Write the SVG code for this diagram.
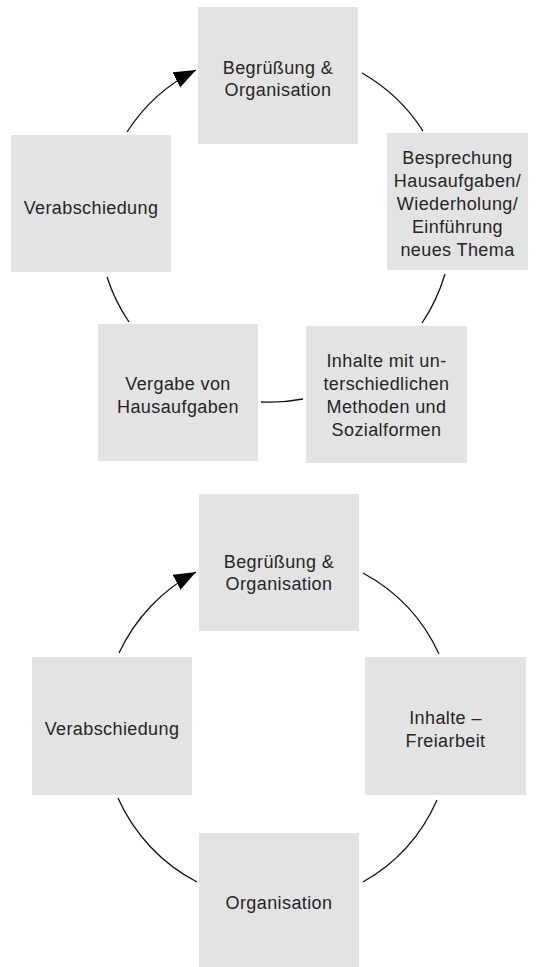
<svg xmlns="http://www.w3.org/2000/svg" width="536" height="967" viewBox="0 0 536 967">
  <style>
    .box { fill: #e3e3e3; }
    .lbl { font-family: "Liberation Sans", Arial, sans-serif; font-size: 18px; letter-spacing: 0.4px; fill: #262626; text-anchor: middle; }
    .arc { fill: none; stroke: #111; stroke-width: 1.3; }
  </style>
  <defs>
    <marker id="arrow" markerUnits="userSpaceOnUse" markerWidth="24" markerHeight="18" refX="22" refY="8.5" orient="auto">
      <path d="M0,0 L22,8.5 L0,17 Z" fill="#000"/>
    </marker>
  </defs>
  <rect width="536" height="967" fill="#fff"/>

  <!-- lesson cycle: classic lesson -->
  <g id="connectors-top">
    <path class="arc" d="M362,73 A175.5,175.5 0 0 1 423,131"/>
    <path class="arc" d="M445,274 A175.5,175.5 0 0 1 422,323"/>
    <path class="arc" d="M303,399 A175.5,175.5 0 0 1 261,402"/>
    <path class="arc" d="M129,322 A175.5,175.5 0 0 1 107,277"/>
    <path class="arc" d="M127,132 A175.5,175.5 0 0 1 196,70" marker-end="url(#arrow)"/>
  </g>

  <g id="top-begruessung">
    <rect class="box" x="198" y="7" width="160" height="137"/>
    <text class="lbl" x="278" y="74">Begrüßung &amp;</text>
    <text class="lbl" x="278" y="96">Organisation</text>
  </g>
  <g id="top-besprechung">
    <rect class="box" x="387" y="133" width="141" height="137"/>
    <text class="lbl" x="457.5" y="164">Besprechung</text>
    <text class="lbl" x="457.5" y="187">Hausaufgaben/</text>
    <text class="lbl" x="457.5" y="210">Wiederholung/</text>
    <text class="lbl" x="457.5" y="233">Einführung</text>
    <text class="lbl" x="457.5" y="256">neues Thema</text>
  </g>
  <g id="top-inhalte">
    <rect class="box" x="306" y="326" width="161" height="137"/>
    <text class="lbl" x="386.5" y="367">Inhalte mit un-</text>
    <text class="lbl" x="386.5" y="390">terschiedlichen</text>
    <text class="lbl" x="386.5" y="413">Methoden und</text>
    <text class="lbl" x="386.5" y="436">Sozialformen</text>
  </g>
  <g id="top-vergabe">
    <rect class="box" x="98" y="324" width="160" height="137"/>
    <text class="lbl" x="178" y="390">Vergabe von</text>
    <text class="lbl" x="178" y="413">Hausaufgaben</text>
  </g>
  <g id="top-verabschiedung">
    <rect class="box" x="11" y="135" width="160" height="137"/>
    <text class="lbl" x="91" y="214">Verabschiedung</text>
  </g>

  <!-- lesson cycle: free work -->
  <g id="connectors-bottom">
    <path class="arc" d="M363,573 A175,175 0 0 1 439,654"/>
    <path class="arc" d="M437,800 A175,175 0 0 1 363,882"/>
    <path class="arc" d="M197,882 A175,175 0 0 1 118,798"/>
    <path class="arc" d="M119,653 A175,175 0 0 1 196,572" marker-end="url(#arrow)"/>
  </g>

  <g id="bottom-begruessung">
    <rect class="box" x="199" y="494" width="160" height="137"/>
    <text class="lbl" x="279" y="568">Begrüßung &amp;</text>
    <text class="lbl" x="279" y="590">Organisation</text>
  </g>
  <g id="bottom-inhalte">
    <rect class="box" x="365" y="657" width="161" height="138"/>
    <text class="lbl" x="445.5" y="724">Inhalte –</text>
    <text class="lbl" x="445.5" y="747">Freiarbeit</text>
  </g>
  <g id="bottom-organisation">
    <rect class="box" x="199" y="833" width="160" height="137"/>
    <text class="lbl" x="279" y="909">Organisation</text>
  </g>
  <g id="bottom-verabschiedung">
    <rect class="box" x="32" y="657" width="160" height="138"/>
    <text class="lbl" x="112" y="735">Verabschiedung</text>
  </g>
</svg>
